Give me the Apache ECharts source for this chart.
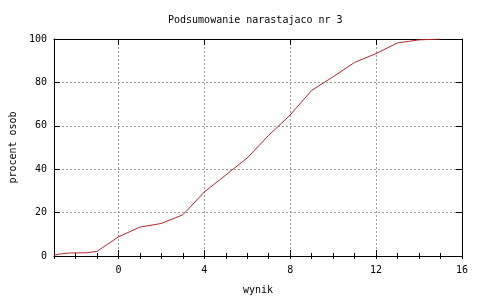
<!DOCTYPE html>
<html>
<head>
<meta charset="utf-8">
<script src="https://cdn.jsdelivr.net/npm/echarts@6/dist/echarts.min.js"></script>
<style>html,body{margin:0;padding:0;background:#fff}#c{width:480px;height:300px}</style>
</head>
<body>
<div id="c"></div>
<script>
const titleText = 'Podsumowanie narastajaco nr 3';
const xName = 'wynik';
const yName = 'procent osob';
const xMajorTicks = [0, 4, 8, 12, 16];
const xValues = [-3, -2.75, -2.25, -1.5, -1, 0, 1, 2, 3, 3.15, 4, 5, 6, 7, 8, 9, 10, 11, 12, 13, 13.5, 14, 15];
const yValues = [0.3, 0.9, 1.4, 1.5, 2.1, 8.8, 13.3, 15, 19, 20.5, 29.5, 37.3, 45.2, 55.6, 65, 76.3, 82.6, 89.2, 93.3, 98.2, 98.9, 99.6, 100];

const font = 'DejaVu Sans Mono';
const gridLine = {show: true, lineStyle: {color: '#9a9a9a', type: [2, 2], width: 1}};
const axisLineBlack = {show: true, onZero: false, lineStyle: {color: '#000', width: 1}};

const chart = echarts.init(document.getElementById('c'), null, {renderer: 'canvas'});
chart.setOption({
  animation: false,
  backgroundColor: '#fff',
  title: {
    text: titleText, left: 168, top: 15, padding: 0,
    textStyle: {fontFamily: font, fontSize: 10, fontWeight: 'normal', color: '#000'}
  },
  grid: {left: 52, right: 18, top: 39, bottom: 42},
  xAxis: [
    {
      type: 'value', position: 'bottom', min: -3, max: 16,
      name: xName, nameLocation: 'middle', nameGap: 29,
      nameTextStyle: {fontFamily: font, fontSize: 10, color: '#000'},
      axisLine: axisLineBlack,
      axisTick: {show: true, inside: true, length: 6, customValues: xMajorTicks, lineStyle: {color: '#000'}},
      axisLabel: {show: true, customValues: xMajorTicks, margin: 9, fontFamily: font, fontSize: 10, color: '#000'},
      splitLine: gridLine
    },
    {
      type: 'value', position: 'bottom', min: -3, max: 16, interval: 1,
      axisLine: {show: false},
      axisTick: {show: true, inside: true, length: 3, lineStyle: {color: '#000'}},
      axisLabel: {show: false}, splitLine: {show: false}
    },
    {
      type: 'value', position: 'top', min: -3, max: 16,
      axisLine: axisLineBlack,
      axisTick: {show: true, inside: true, length: 6, customValues: xMajorTicks, lineStyle: {color: '#000'}},
      axisLabel: {show: false}, splitLine: {show: false}
    },
    {
      type: 'value', position: 'top', min: -3, max: 16, interval: 1,
      axisLine: {show: false},
      axisTick: {show: true, inside: true, length: 3, lineStyle: {color: '#000'}},
      axisLabel: {show: false}, splitLine: {show: false}
    }
  ],
  yAxis: [
    {
      type: 'value', position: 'left', min: 0, max: 100, interval: 20,
      name: yName, nameLocation: 'middle', nameGap: 34, nameRotate: 90,
      nameTextStyle: {fontFamily: font, fontSize: 10, color: '#000'},
      axisLine: axisLineBlack,
      axisTick: {show: true, inside: true, length: 6, lineStyle: {color: '#000'}},
      axisLabel: {show: true, margin: 7, fontFamily: font, fontSize: 10, color: '#000'},
      splitLine: gridLine
    },
    {
      type: 'value', position: 'right', min: 0, max: 100, interval: 20,
      axisLine: axisLineBlack,
      axisTick: {show: true, inside: true, length: 6, lineStyle: {color: '#000'}},
      axisLabel: {show: false}, splitLine: {show: false}
    }
  ],
  series: [{
    type: 'line', xAxisIndex: 0, yAxisIndex: 0,
    data: xValues.map((x, i) => [x, yValues[i]]),
    showSymbol: false, symbol: 'none',
    lineStyle: {color: '#b0282a', width: 1},
    itemStyle: {color: '#b0282a'},
    z: 5
  }]
});
</script>
</body>
</html>
